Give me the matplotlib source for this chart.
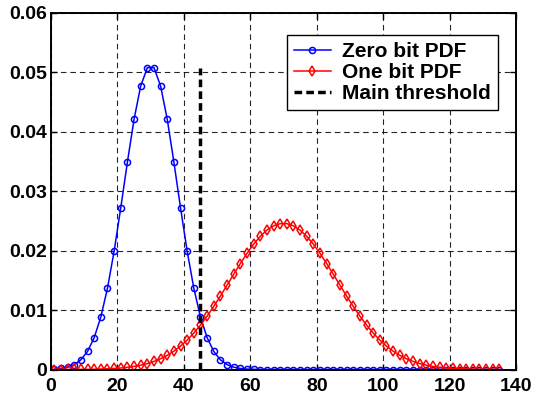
import numpy as np
import matplotlib
matplotlib.use("Agg")
import matplotlib.pyplot as plt
from matplotlib.font_manager import FontProperties

plt.rcParams['font.family'] = ['Liberation Sans', 'DejaVu Sans']
plt.rcParams['font.weight'] = 'bold'
plt.rcParams['font.size'] = 12.5

# sample positions (odd values 1..135)
x = list(range(1, 136, 2))

# zero bit PDF
zero_pdf = [0.00007, 0.00017, 0.00039, 0.00082, 0.00163, 0.00305, 0.00536, 0.00883,
            0.01368, 0.0199, 0.0272, 0.0349, 0.0421, 0.0477, 0.0508,
            0.0508, 0.0477, 0.0421, 0.0349, 0.0272, 0.0199, 0.01368,
            0.00883, 0.00536, 0.00305, 0.00163, 0.00082, 0.00039, 0.00017,
            0.00007, 0.00003] + [0.0] * 37

# one bit PDF
one_pdf = [0.0, 0.0, 0.00001, 0.00001, 0.00002, 0.00003, 0.00005, 0.00008, 0.00012,
           0.00017, 0.00025, 0.00037, 0.00052, 0.00073, 0.00100, 0.00136, 0.00181,
           0.00239, 0.00309, 0.00394, 0.00496, 0.00614, 0.00748, 0.00898, 0.01062,
           0.01237, 0.01419, 0.01602, 0.01783, 0.01954, 0.02108, 0.02241, 0.02346,
           0.02418, 0.02455,
           0.02455, 0.02418, 0.02346, 0.02241, 0.02108, 0.01954, 0.01783, 0.01602,
           0.01419, 0.01237, 0.01062, 0.00898, 0.00748, 0.00614, 0.00496, 0.00394,
           0.00309, 0.00239, 0.00181, 0.00136, 0.00100, 0.00073, 0.00052, 0.00037,
           0.00025, 0.00017, 0.00012, 0.00008, 0.00005, 0.00003, 0.00002, 0.00001,
           0.00001]

thr_x = [45, 45]
thr_y = [0, 0.0508]

xticks = [0, 20, 40, 60, 80, 100, 120, 140]
yticks = [0, 0.01, 0.02, 0.03, 0.04, 0.05, 0.06]
ylabels = ['0', '0.01', '0.02', '0.03', '0.04', '0.05', '0.06']

fp = FontProperties(family='Liberation Sans', weight='bold', size=14)
fp_leg = FontProperties(family='Liberation Sans', weight='bold', size=15)

fig = plt.figure(figsize=(5.33, 3.96), dpi=100)
ax = fig.add_axes([0.0957, 0.0669, 0.8724, 0.9003])

ax.plot(x, zero_pdf, color='b', lw=1.1, marker='o', ms=4.4, mfc='none', mew=1.1,
        label='Zero bit PDF')
ax.plot(x, one_pdf, color='r', lw=1.1, marker='d', ms=4.8, mfc='none', mew=1.1,
        label='One bit PDF')
ax.plot(thr_x, thr_y, color='k', lw=2.5, ls=(0, (2.2, 1.2)), label='Main threshold')

ax.set_xlim(0, 140)
ax.set_ylim(0, 0.06)
ax.set_xticks(xticks)
ax.set_xticklabels([str(t) for t in xticks], fontproperties=fp)
ax.set_yticks(yticks)
ax.set_yticklabels(ylabels, fontproperties=fp)
ax.tick_params(direction='in', top=True, right=True, length=4, width=1)
ax.tick_params(axis='x', pad=6)
ax.tick_params(axis='y', pad=3)
ax.grid(True, color='k', lw=0.8, ls=(0, (5, 3.5)), alpha=0.85)
for s in ax.spines.values():
    s.set_linewidth(1.4)

leg = ax.legend(loc='upper right', bbox_to_anchor=(0.9606, 0.938), borderaxespad=0,
                fancybox=False, edgecolor='k', framealpha=1, prop=fp_leg,
                handlelength=1.75, labelspacing=0.1, borderpad=0.33, handletextpad=0.55)
leg.get_frame().set_linewidth(1)

fig.savefig('out.png', dpi=100)
